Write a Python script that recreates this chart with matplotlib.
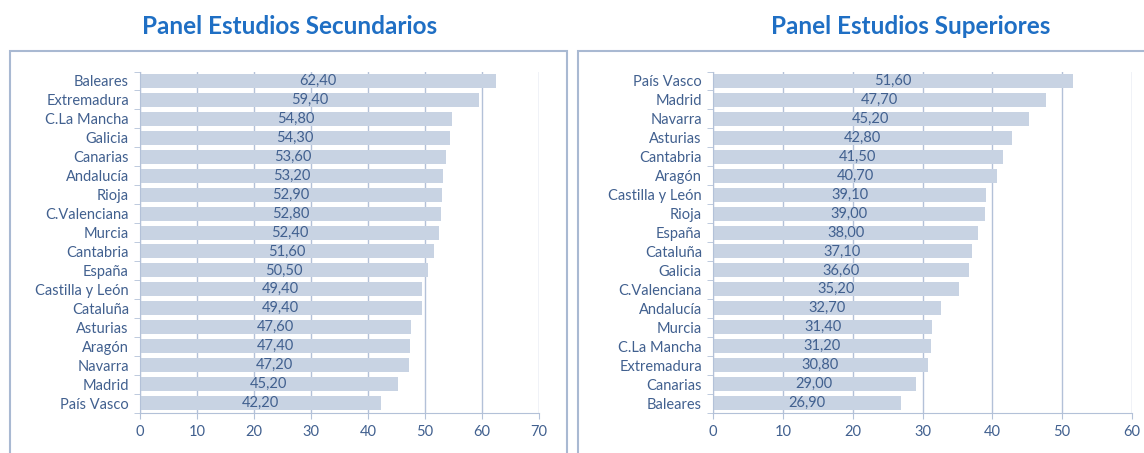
import matplotlib.pyplot as plt
from matplotlib.patches import Rectangle
from matplotlib.ticker import MultipleLocator, FixedLocator
import numpy as np

# data, listed top to bottom as in the picture
sec_regions = ['Baleares', 'Extremadura', 'C.La Mancha', 'Galicia', 'Canarias',
               'Andalucía', 'Rioja', 'C.Valenciana', 'Murcia', 'Cantabria',
               'España', 'Castilla y León', 'Cataluña', 'Asturias', 'Aragón',
               'Navarra', 'Madrid', 'País Vasco']
sec_values = [62.4, 59.4, 54.8, 54.3, 53.6, 53.2, 52.9, 52.8, 52.4, 51.6,
              50.5, 49.4, 49.4, 47.6, 47.4, 47.2, 45.2, 42.2]

sup_regions = ['País Vasco', 'Madrid', 'Navarra', 'Asturias', 'Cantabria',
               'Aragón', 'Castilla y León', 'Rioja', 'España', 'Cataluña',
               'Galicia', 'C.Valenciana', 'Andalucía', 'Murcia', 'C.La Mancha',
               'Extremadura', 'Canarias', 'Baleares']
sup_values = [51.6, 47.7, 45.2, 42.8, 41.5, 40.7, 39.1, 39.0, 38.0, 37.1,
              36.6, 35.2, 32.7, 31.4, 31.2, 30.8, 29.0, 26.9]

titles = ['Panel Estudios Secundarios', 'Panel Estudios Superiores']

plt.rcParams['font.family'] = ['Lato', 'DejaVu Sans']

BAR = '#c8d3e3'
GRID = '#b3c1d8'
TXT = '#41608f'
TITLE = '#1f6fc4'
FRAME = '#a9b9d2'

W, H = 1144, 453
fig = plt.figure(figsize=(W / 100, H / 100), dpi=100)


def px_axes(x0, x1, y0, y1):
    return fig.add_axes([x0 / W, 1 - y1 / H, (x1 - x0) / W, (y1 - y0) / H])


def draw_panel(ax, regions, values, xmax, title, frame, title_x):
    n = len(regions)
    y = np.arange(n)[::-1]
    ax.barh(y, values, height=0.74, color=BAR, zorder=2)
    for yi, v in zip(y, values):
        ax.text(v / 2, yi, f'{v:.2f}'.replace('.', ','), ha='center',
                va='center', color=TXT, fontsize=10.5, zorder=3)
    ax.set_xlim(0, xmax)
    ax.set_ylim(-0.5, n - 0.5)
    ax.set_yticks(y)
    ax.set_yticklabels(regions)
    ax.yaxis.set_minor_locator(FixedLocator(np.arange(n + 1) - 0.5))
    ax.tick_params(axis='y', which='major', length=0, pad=8,
                   labelcolor=TXT, labelsize=10.5)
    ax.tick_params(axis='y', which='minor', length=4, color=GRID)
    ax.xaxis.set_major_locator(MultipleLocator(10))
    ax.tick_params(axis='x', length=4, color=GRID, labelcolor=TXT,
                   labelsize=10.5, pad=5)
    ax.grid(axis='x', color=GRID, linewidth=1, zorder=1)
    ax.set_axisbelow(True)
    for s in ['top', 'right']:
        ax.spines[s].set_visible(False)
    for s in ['left', 'bottom']:
        ax.spines[s].set_color(GRID)
    # outer frame, open at the bottom edge of the image
    fig.patches.append(Rectangle((frame[0] / W, -0.05), (frame[1] - frame[0]) / W,
                                 1.05 - frame[2] / H, transform=fig.transFigure,
                                 fill=False, edgecolor=FRAME, linewidth=1.5))
    fig.text(title_x / W, 1 - 27 / H, title, ha='center', va='center',
             color=TITLE, fontsize=17.5, fontweight='bold')


ax1 = px_axes(140, 539, 71.5, 412.5)
draw_panel(ax1, sec_regions, sec_values, 70, titles[0], (10, 567, 51), 290)

ax2 = px_axes(713, 1132, 71.5, 412.5)
draw_panel(ax2, sup_regions, sup_values, 60, titles[1], (578, 1150, 51), 911)

fig.savefig('out.png', dpi=100)
